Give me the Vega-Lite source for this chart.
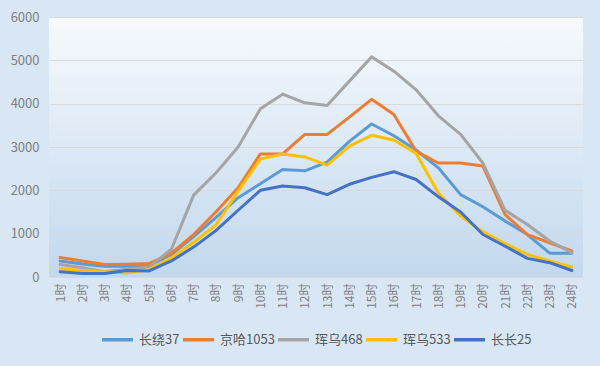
{
  "$schema": "https://vega.github.io/schema/vega-lite/v6.json",
  "width": 600,
  "height": 366,
  "autosize": {"type": "fit", "contains": "padding"},
  "padding": {"left": 10, "right": 17, "top": 11, "bottom": 19},
  "background": "#d9e7f5",
  "config": {
    "font": "Noto Sans CJK SC",
    "view": {"stroke": null, "fill": {"expr": "{gradient: 'linear', x1: 0, y1: 0, x2: 0, y2: 1, stops: [{offset: 0, color: '#f7fafd'}, {offset: 1, color: '#c2d8ee'}]}"}},
    "axis": {"labelColor": "#7f7f7f", "domain": false, "ticks": false, "title": null, "gridColor": "#d9d9d9", "gridWidth": 1},
    "legend": {"layout": {"bottom": {"anchor": "middle"}}}
  },
  "data": {"values": [
    {"h":1,"hour":"1时","series":"长绕37","value":370},{"h":2,"hour":"2时","series":"长绕37","value":300},{"h":3,"hour":"3时","series":"长绕37","value":250},{"h":4,"hour":"4时","series":"长绕37","value":250},{"h":5,"hour":"5时","series":"长绕37","value":260},{"h":6,"hour":"6时","series":"长绕37","value":520},{"h":7,"hour":"7时","series":"长绕37","value":930},{"h":8,"hour":"8时","series":"长绕37","value":1370},{"h":9,"hour":"9时","series":"长绕37","value":1830},{"h":10,"hour":"10时","series":"长绕37","value":2150},{"h":11,"hour":"11时","series":"长绕37","value":2480},{"h":12,"hour":"12时","series":"长绕37","value":2450},{"h":13,"hour":"13时","series":"长绕37","value":2650},{"h":14,"hour":"14时","series":"长绕37","value":3130},{"h":15,"hour":"15时","series":"长绕37","value":3530},{"h":16,"hour":"16时","series":"长绕37","value":3260},{"h":17,"hour":"17时","series":"长绕37","value":2930},{"h":18,"hour":"18时","series":"长绕37","value":2520},{"h":19,"hour":"19时","series":"长绕37","value":1900},{"h":20,"hour":"20时","series":"长绕37","value":1620},{"h":21,"hour":"21时","series":"长绕37","value":1290},{"h":22,"hour":"22时","series":"长绕37","value":980},{"h":23,"hour":"23时","series":"长绕37","value":550},{"h":24,"hour":"24时","series":"长绕37","value":550},
    {"h":1,"hour":"1时","series":"京哈1053","value":450},{"h":2,"hour":"2时","series":"京哈1053","value":370},{"h":3,"hour":"3时","series":"京哈1053","value":290},{"h":4,"hour":"4时","series":"京哈1053","value":295},{"h":5,"hour":"5时","series":"京哈1053","value":310},{"h":6,"hour":"6时","series":"京哈1053","value":550},{"h":7,"hour":"7时","series":"京哈1053","value":980},{"h":8,"hour":"8时","series":"京哈1053","value":1500},{"h":9,"hour":"9时","series":"京哈1053","value":2060},{"h":10,"hour":"10时","series":"京哈1053","value":2840},{"h":11,"hour":"11时","series":"京哈1053","value":2840},{"h":12,"hour":"12时","series":"京哈1053","value":3290},{"h":13,"hour":"13时","series":"京哈1053","value":3290},{"h":14,"hour":"14时","series":"京哈1053","value":3690},{"h":15,"hour":"15时","series":"京哈1053","value":4100},{"h":16,"hour":"16时","series":"京哈1053","value":3750},{"h":17,"hour":"17时","series":"京哈1053","value":2900},{"h":18,"hour":"18时","series":"京哈1053","value":2630},{"h":19,"hour":"19时","series":"京哈1053","value":2630},{"h":20,"hour":"20时","series":"京哈1053","value":2560},{"h":21,"hour":"21时","series":"京哈1053","value":1440},{"h":22,"hour":"22时","series":"京哈1053","value":980},{"h":23,"hour":"23时","series":"京哈1053","value":790},{"h":24,"hour":"24时","series":"京哈1053","value":600},
    {"h":1,"hour":"1时","series":"珲乌468","value":290},{"h":2,"hour":"2时","series":"珲乌468","value":215},{"h":3,"hour":"3时","series":"珲乌468","value":120},{"h":4,"hour":"4时","series":"珲乌468","value":180},{"h":5,"hour":"5时","series":"珲乌468","value":230},{"h":6,"hour":"6时","series":"珲乌468","value":640},{"h":7,"hour":"7时","series":"珲乌468","value":1890},{"h":8,"hour":"8时","series":"珲乌468","value":2400},{"h":9,"hour":"9时","series":"珲乌468","value":3000},{"h":10,"hour":"10时","series":"珲乌468","value":3880},{"h":11,"hour":"11时","series":"珲乌468","value":4220},{"h":12,"hour":"12时","series":"珲乌468","value":4020},{"h":13,"hour":"13时","series":"珲乌468","value":3960},{"h":14,"hour":"14时","series":"珲乌468","value":4520},{"h":15,"hour":"15时","series":"珲乌468","value":5080},{"h":16,"hour":"16时","series":"珲乌468","value":4750},{"h":17,"hour":"17时","series":"珲乌468","value":4320},{"h":18,"hour":"18时","series":"珲乌468","value":3720},{"h":19,"hour":"19时","series":"珲乌468","value":3290},{"h":20,"hour":"20时","series":"珲乌468","value":2630},{"h":21,"hour":"21时","series":"珲乌468","value":1540},{"h":22,"hour":"22时","series":"珲乌468","value":1210},{"h":23,"hour":"23时","series":"珲乌468","value":830},{"h":24,"hour":"24时","series":"珲乌468","value":560},
    {"h":1,"hour":"1时","series":"珲乌533","value":190},{"h":2,"hour":"2时","series":"珲乌533","value":150},{"h":3,"hour":"3时","series":"珲乌533","value":120},{"h":4,"hour":"4时","series":"珲乌533","value":90},{"h":5,"hour":"5时","series":"珲乌533","value":170},{"h":6,"hour":"6时","series":"珲乌533","value":440},{"h":7,"hour":"7时","series":"珲乌533","value":800},{"h":8,"hour":"8时","series":"珲乌533","value":1200},{"h":9,"hour":"9时","series":"珲乌533","value":1980},{"h":10,"hour":"10时","series":"珲乌533","value":2720},{"h":11,"hour":"11时","series":"珲乌533","value":2840},{"h":12,"hour":"12时","series":"珲乌533","value":2770},{"h":13,"hour":"13时","series":"珲乌533","value":2580},{"h":14,"hour":"14时","series":"珲乌533","value":3020},{"h":15,"hour":"15时","series":"珲乌533","value":3270},{"h":16,"hour":"16时","series":"珲乌533","value":3160},{"h":17,"hour":"17时","series":"珲乌533","value":2850},{"h":18,"hour":"18时","series":"珲乌533","value":1940},{"h":19,"hour":"19时","series":"珲乌533","value":1410},{"h":20,"hour":"20时","series":"珲乌533","value":1040},{"h":21,"hour":"21时","series":"珲乌533","value":770},{"h":22,"hour":"22时","series":"珲乌533","value":520},{"h":23,"hour":"23时","series":"珲乌533","value":370},{"h":24,"hour":"24时","series":"珲乌533","value":230},
    {"h":1,"hour":"1时","series":"长长25","value":120},{"h":2,"hour":"2时","series":"长长25","value":80},{"h":3,"hour":"3时","series":"长长25","value":80},{"h":4,"hour":"4时","series":"长长25","value":150},{"h":5,"hour":"5时","series":"长长25","value":140},{"h":6,"hour":"6时","series":"长长25","value":370},{"h":7,"hour":"7时","series":"长长25","value":690},{"h":8,"hour":"8时","series":"长长25","value":1070},{"h":9,"hour":"9时","series":"长长25","value":1540},{"h":10,"hour":"10时","series":"长长25","value":2000},{"h":11,"hour":"11时","series":"长长25","value":2100},{"h":12,"hour":"12时","series":"长长25","value":2060},{"h":13,"hour":"13时","series":"长长25","value":1900},{"h":14,"hour":"14时","series":"长长25","value":2140},{"h":15,"hour":"15时","series":"长长25","value":2300},{"h":16,"hour":"16时","series":"长长25","value":2430},{"h":17,"hour":"17时","series":"长长25","value":2250},{"h":18,"hour":"18时","series":"长长25","value":1850},{"h":19,"hour":"19时","series":"长长25","value":1500},{"h":20,"hour":"20时","series":"长长25","value":980},{"h":21,"hour":"21时","series":"长长25","value":710},{"h":22,"hour":"22时","series":"长长25","value":430},{"h":23,"hour":"23时","series":"长长25","value":330},{"h":24,"hour":"24时","series":"长长25","value":150}
  ]},
  "mark": {"type": "line", "strokeWidth": 3, "strokeCap": "round", "strokeJoin": "round"},
  "encoding": {
    "x": {"field": "hour", "type": "ordinal", "sort": null,
      "axis": {"labelAngle": -90, "labelFontSize": 12, "grid": false, "labelPadding": 6}},
    "y": {"field": "value", "type": "quantitative", "scale": {"domain": [0, 6000]},
      "axis": {"values": [0,1000,2000,3000,4000,5000,6000], "labelFontSize": 13, "labelPadding": 10, "format": "d"}},
    "color": {"field": "series", "type": "nominal",
      "scale": {"domain": ["长绕37","京哈1053","珲乌468","珲乌533","长长25"], "range": ["#5b9bd5","#ed7d31","#a5a5a5","#ffc000","#4472c4"]},
      "legend": {"orient": "bottom", "direction": "horizontal", "title": null, "symbolType": "stroke", "symbolStrokeWidth": 3.5, "symbolSize": 961, "labelFontSize": 13, "labelColor": "#595959", "columnPadding": -4, "labelOffset": 4, "offset": 13}},
    "order": {"field": "h", "type": "quantitative"}
  }
}
